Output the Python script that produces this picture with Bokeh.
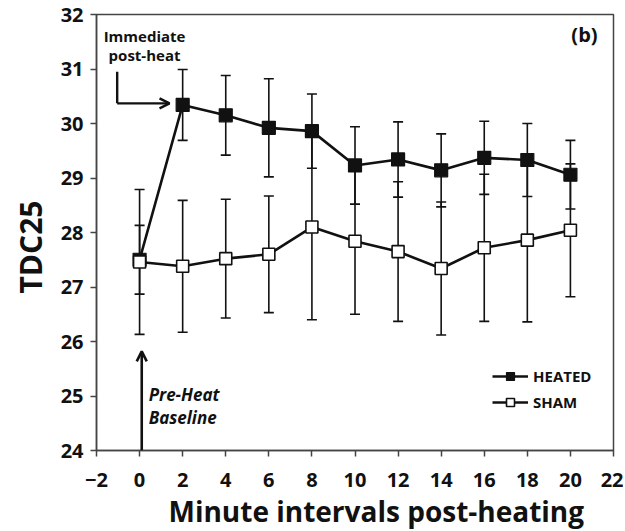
from bokeh.plotting import figure
from bokeh.models import (ColumnDataSource, Legend, LegendItem, Label, Arrow,
                          OpenHead, FixedTicker, Title)
from bokeh.embed import file_html
from bokeh.resources import INLINE

# ---- data ----
minutes = [0, 2, 4, 6, 8, 10, 12, 14, 16, 18, 20]
heated_mean = [27.50, 30.34, 30.15, 29.92, 29.86, 29.23, 29.34, 29.14, 29.37, 29.33, 29.06]
heated_err = [0.63, 0.65, 0.73, 0.90, 0.68, 0.71, 0.69, 0.67, 0.67, 0.67, 0.63]
sham_mean = [27.46, 27.38, 27.52, 27.60, 28.10, 27.84, 27.65, 27.34, 27.72, 27.86, 28.04]
sham_err = [1.33, 1.21, 1.09, 1.07, 1.70, 1.34, 1.28, 1.22, 1.35, 1.50, 1.22]
x_ticks = list(range(-2, 23, 2))
y_ticks = list(range(24, 33))
x_title = "Minute intervals post-heating"
y_title = "TDC25"
series_names = ["HEATED", "SHAM"]

FONT = "Open Sans"
INK = "#111111"
FRAME = "#444444"

p = figure(frame_width=517, frame_height=436, output_backend="svg", toolbar_location=None,
           x_range=(-2, 22), y_range=(24, 32),
           min_border_left=96, min_border_right=10, min_border_top=14, min_border_bottom=10)
p.background_fill_color = "white"
p.border_fill_color = "white"
p.grid.visible = False
p.outline_line_color = FRAME
p.outline_line_width = 1.5

for ax in (p.xaxis[0], p.yaxis[0]):
    ax.axis_line_color = FRAME
    ax.axis_line_width = 1.5
    ax.major_tick_line_color = FRAME
    ax.major_tick_line_width = 1.5
    ax.major_tick_out = 6
    ax.major_tick_in = 0
    ax.minor_tick_line_color = None
    ax.major_label_text_font = FONT
    ax.major_label_text_font_style = "bold"
    ax.major_label_text_font_size = "20px"
    ax.major_label_text_color = INK

p.xaxis.ticker = FixedTicker(ticks=x_ticks)
p.yaxis.ticker = FixedTicker(ticks=y_ticks)
p.xaxis.major_label_overrides = {-2: "\u22122"}
p.xaxis.major_label_standoff = 16
p.yaxis.major_label_standoff = 7

# axis titles, placed off-centre as in the reference
p.add_layout(Title(text=x_title, align="left", offset=72, text_font=FONT,
                   text_font_style="bold", text_font_size="28px", text_color=INK,
                   standoff=0), "below")
p.add_layout(Title(text=y_title, align="left", offset=157, text_font=FONT,
                   text_font_style="bold", text_font_size="30px", text_color=INK,
                   standoff=13), "left")

hs = ColumnDataSource(dict(x=minutes, y=heated_mean,
                           lo=[m - e for m, e in zip(heated_mean, heated_err)],
                           hi=[m + e for m, e in zip(heated_mean, heated_err)]))
ss = ColumnDataSource(dict(x=minutes, y=sham_mean,
                           lo=[m - e for m, e in zip(sham_mean, sham_err)],
                           hi=[m + e for m, e in zip(sham_mean, sham_err)]))

# error bars
for src in (ss, hs):
    p.segment(x0="x", y0="lo", x1="x", y1="hi", source=src, line_color=INK, line_width=1.6)
    p.scatter(x="x", y="lo", source=src, marker="dash", size=10, line_color=INK, line_width=1.6)
    p.scatter(x="x", y="hi", source=src, marker="dash", size=10, line_color=INK, line_width=1.6)

sl = p.line(x="x", y="y", source=ss, line_color=INK, line_width=2.6)
hl = p.line(x="x", y="y", source=hs, line_color=INK, line_width=2.6)
hm = p.scatter(x="x", y="y", source=hs, marker="square", size=13, fill_color=INK,
               line_color=INK, line_width=1.2)
sm = p.scatter(x="x", y="y", source=ss, marker="square", size=12, fill_color="white",
               line_color=INK, line_width=1.6)

legend = Legend(items=[LegendItem(label=series_names[0], renderers=[hl, hm]),
                       LegendItem(label=series_names[1], renderers=[sl, sm])],
                location=(396, 38), background_fill_alpha=0, border_line_alpha=0,
                glyph_width=36, glyph_height=20, spacing=6, padding=0, margin=0,
                label_standoff=5, label_text_font=FONT, label_text_font_style="bold",
                label_text_font_size="15px", label_text_color=INK, label_height=20)
p.add_layout(legend, "center")

# annotations
def note(x, y, text, size, style="bold", align="left"):
    p.add_layout(Label(x=x, y=y, text=text, text_align=align, text_baseline="alphabetic",
                       text_font=FONT, text_font_style=style, text_font_size=size,
                       text_color=INK))

note(0.23, 31.61, "Immediate", "15px", align="center")
note(0.23, 31.25, "post-heat", "15px", align="center")
p.add_layout(Arrow(x_start=-1.04, y_start=30.95, x_end=-1.04, y_end=30.37,
                   line_color=INK, line_width=2.4, end=None))
p.add_layout(Arrow(x_start=-1.04, y_start=30.37, x_end=1.39, y_end=30.37,
                   line_color=INK, line_width=2.4,
                   end=OpenHead(size=10, line_color=INK, line_width=2.4)))
p.add_layout(Arrow(x_start=0.1, y_start=24.0, x_end=0.1, y_end=25.82,
                   line_color=INK, line_width=2.6,
                   end=OpenHead(size=10, line_color=INK, line_width=2.6)))
note(0.42, 25.02, "Pre-Heat", "17px", style="bold italic")
note(0.42, 24.61, "Baseline", "17px", style="bold italic")
note(21.26, 31.63, "(b)", "20px", align="right")

open("out.html", "w").write(file_html(p, INLINE))
